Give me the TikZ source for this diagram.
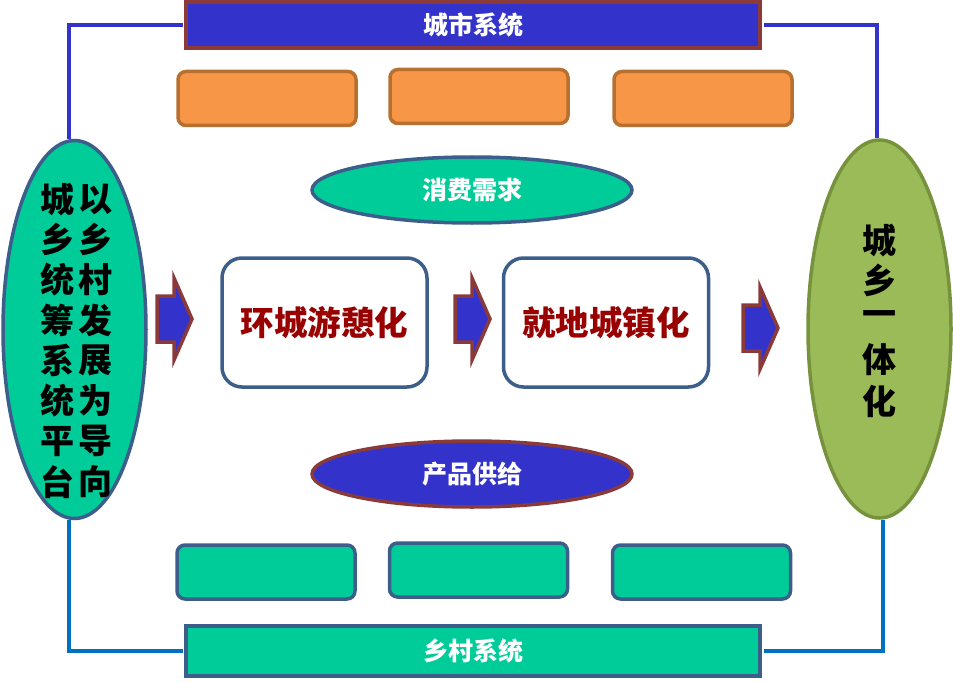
\documentclass[tikz,border=0pt]{standalone}
\usepackage{fontspec}
\setmainfont{Noto Sans CJK SC}
\usetikzlibrary{shapes.geometric,calc}
\definecolor{barblue}{HTML}{3333CC}
\definecolor{brick}{HTML}{8B3A3A}
\definecolor{orfill}{HTML}{F79646}
\definecolor{ordraw}{HTML}{B7702F}
\definecolor{teal}{HTML}{00CC99}
\definecolor{slate}{HTML}{3C5E8B}
\definecolor{olive}{HTML}{9BBB59}
\definecolor{olivedraw}{HTML}{76923C}
\definecolor{linkblue}{HTML}{0070C0}
\definecolor{darkred}{HTML}{990000}
\tikzset{
  bar/.style={draw, line width=3.5pt, minimum width=574pt, inner sep=0pt, font=\fontsize{25}{25}\selectfont\bfseries, text=white},
  obox/.style={draw=ordraw, fill=orfill, line width=3.5pt, rounded corners=8pt, minimum width=178pt, minimum height=54pt, inner sep=0pt},
  gbox/.style={draw=slate, fill=teal, line width=3.5pt, rounded corners=8pt, minimum width=178pt, minimum height=54pt, inner sep=0pt},
  oval/.style={ellipse, line width=3.5pt, inner sep=0pt, minimum width=320pt, minimum height=66pt, font=\fontsize{25}{25}\selectfont\bfseries, text=white},
  bigoval/.style={ellipse, line width=3.5pt, inner sep=0pt, minimum width=143pt, minimum height=378pt},
  stage/.style={draw=slate, fill=white, line width=3.5pt, rounded corners=20pt, minimum width=205pt, minimum height=129pt, inner sep=0pt, font=\fontsize{33.5}{33.5}\selectfont\bfseries, text=darkred},
  blockarrow/.style={fill=barblue, draw=brick, line width=3.5pt, line join=miter},
  toplink/.style={draw=barblue, line width=4pt},
  botlink/.style={draw=linkblue, line width=4pt},
  vchar/.style={font=\fontsize{34}{34}\selectfont\bfseries, text=black, inner sep=0pt}
}
\begin{document}
\begin{tikzpicture}[x=1pt,y=-1pt]
\useasboundingbox (0,0) rectangle (953,682);
% bars
\node[bar, draw=brick, fill=barblue, minimum height=46pt] (city) at (473,25) {城市系统};
\node[bar, draw=slate, fill=teal, minimum height=50pt] (rural) at (473,651) {乡村系统};
% small boxes
\node[obox] (o1) at (267,98.5) {};
\node[obox] (o2) at (479,96.5) {};
\node[obox] (o3) at (703,98.5) {};
\node[gbox] (g1) at (266,572) {};
\node[gbox] (g2) at (478.5,570) {};
\node[gbox] (g3) at (701.5,572) {};
% ovals
\node[oval, draw=slate, fill=teal] (demand) at (472,190) {消费需求};
\node[oval, draw=brick, fill=barblue] (supply) at (472,474) {产品供给};
% big ovals
\node[bigoval, draw=slate, fill=teal] (left) at (74.5,329.5) {};
\node[bigoval, draw=olivedraw, fill=olive] (right) at (879.5,329) {};
% left text columns
\foreach \c [count=\i from 0] in {以,乡,村,发,展,为,导,向}
  \node[vchar] (lr\i) at (95,199+40.4*\i) {\c};
\foreach \c [count=\i from 0] in {城,乡,统,筹,系,统,平,台}
  \node[vchar] (ll\i) at (57,199+40.4*\i) {\c};
% right text
\foreach \c/\y [count=\i from 0] in {城/240,乡/280,一/319,体/360,化/401}
  \node[vchar] (rt\i) at (879,\y) {\c};
% stages
\node[stage] (s1) at (324.5,322.5) {环城游憩化};
\node[stage] (s2) at (606,322.5) {就地城镇化};
% block arrows
\foreach \ax/\ay [count=\k] in {157/319, 455/319, 743/328}
  \draw[blockarrow] (\ax,\ay-23) -- ++(17,0) -- ++(0,-18) -- ++(18,41) -- ++(-18,41) -- ++(0,-18) -- ++(-17,0) -- cycle;
% links
\draw[toplink] ([xshift=-1.75pt]city.west) -| ([xshift=-5.5pt]left.north);
\draw[toplink] ([xshift=1.75pt]city.east) -| ([xshift=-2.5pt]right.north);
\draw[botlink] ([xshift=-5.5pt]left.south) |- ([xshift=-1.75pt]rural.west);
\draw[botlink] ([xshift=3.5pt]right.south) |- ([xshift=1.75pt]rural.east);
\end{tikzpicture}
\end{document}
